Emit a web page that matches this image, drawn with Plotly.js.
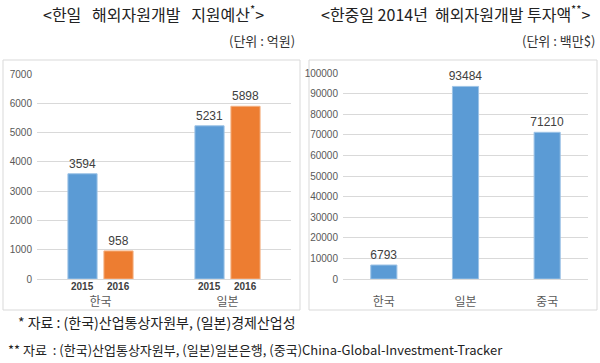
<!DOCTYPE html>
<html><head><meta charset="utf-8">
<script src="https://cdn.plot.ly/plotly-3.0.1.min.js"></script>
<style>html,body{margin:0;padding:0;background:#fff}</style>
</head><body><div id="chart" style="width:600px;height:363px"></div>
<script>
// ---- data ----
const countriesLeft = ['한국', '일본'];
const years = ['2015', '2016'];
const budget2015 = [3594, 5231];
const budget2016 = [958, 5898];
const countriesRight = ['한국', '일본', '중국'];
const invest2014 = [6793, 93484, 71210];
const leftTicks = [0, 1000, 2000, 3000, 4000, 5000, 6000, 7000];
const rightTicks = [0, 10000, 20000, 30000, 40000, 50000, 60000, 70000, 80000, 90000, 100000];

const KFONT = '"Noto Sans CJK KR", "Noto Sans", sans-serif';
const NFONT = '"Liberation Sans", Arial, sans-serif';
const BLUE = '#5B9BD5', ORANGE = '#ED7D31';
const W = 600, H = 363;
const px = v => v / W, py = v => 1 - v / H;
const NB = '\u00a0';

const traces = [
  {type:'bar', x: countriesLeft, y: budget2015, name: years[0], xaxis:'x', yaxis:'y',
   marker:{color: BLUE, line:{color:'#9dc3e6', width:1}},
   text: budget2015.map(String), textposition:'outside', cliponaxis:false, constraintext:'none',
   textfont:{family: NFONT, size: 12, color:'#404040'}, hoverinfo:'x+y'},
  {type:'bar', x: countriesLeft, y: budget2016, name: years[1], xaxis:'x', yaxis:'y',
   marker:{color: ORANGE, line:{color:'#f4b183', width:1}},
   text: budget2016.map(String), textposition:'outside', cliponaxis:false, constraintext:'none',
   textfont:{family: NFONT, size: 12, color:'#404040'}, hoverinfo:'x+y'},
  {type:'bar', x: countriesRight, y: invest2014, name:'2014', xaxis:'x2', yaxis:'y2',
   width: 0.32,
   marker:{color: BLUE, line:{color:'#9dc3e6', width:1}},
   text: invest2014.map(String), textposition:'outside', cliponaxis:false, constraintext:'none',
   textfont:{family: NFONT, size: 12, color:'#404040'}, hoverinfo:'x+y'}
];

const annotations = [
  {text:'&lt;한일' + NB+NB+NB + '해외자원개발' + NB+NB+NB + '지원예산<sup>*</sup>&gt;', xref:'paper', yref:'paper',
   x: px(153), y: py(13), xanchor:'center', yanchor:'middle', showarrow:false,
   font:{family:KFONT, size:16, color:'#222'}},
  {text:'&lt;한중일 2014년' + NB + ' 해외자원개발 투자액<sup>**</sup>&gt;', xref:'paper', yref:'paper',
   x: px(456), y: py(13), xanchor:'center', yanchor:'middle', showarrow:false,
   font:{family:KFONT, size:16, color:'#222'}},
  {text:'(단위' + NB + ':' + NB + '억원)', xref:'paper', yref:'paper', x: px(297), y: py(40),
   xanchor:'right', yanchor:'middle', showarrow:false, font:{family:KFONT, size:13, color:'#333'}},
  {text:'(단위' + NB + ':' + NB + '백만$)', xref:'paper', yref:'paper', x: px(597), y: py(40),
   xanchor:'right', yanchor:'middle', showarrow:false, font:{family:KFONT, size:13, color:'#333'}},
  {text:'*' + NB + '자료 : (한국)산업통상자원부, (일본)경제산업성', xref:'paper', yref:'paper', x: px(16), y: py(322),
   xanchor:'left', yanchor:'middle', showarrow:false, font:{family:KFONT, size:14, color:'#222'}},
  {text:'**' + NB + '자료' + NB + ' : (한국)산업통상자원부, (일본)일본은행, (중국)China-Global-Investment-Tracker', xref:'paper', yref:'paper', x: px(6), y: py(349),
   xanchor:'left', yanchor:'middle', showarrow:false, font:{family:KFONT, size:13, color:'#222'}}
];
// year labels under each left bar
countriesLeft.forEach(c => {
  years.forEach((yr, i) => {
    annotations.push({text:'<b>' + yr + '</b>', xref:'x', yref:'paper', x: c, xshift: i === 0 ? -18 : 18,
      y: py(286), yanchor:'middle', showarrow:false, font:{family:NFONT, size:10, color:'#404040'}});
  });
});

const axisY = {showgrid:true, gridcolor:'#d9d9d9', gridwidth:1, zeroline:true, zerolinecolor:'#d9d9d9',
  showline:false, ticks:'', tickfont:{family:NFONT, size:10, color:'#595959'}, fixedrange:true};
const axisX = {type:'category', showgrid:false, zeroline:false, showline:false, ticks:'',
  tickfont:{family:KFONT, size:12, color:'#595959'}, fixedrange:true};

const layout = {
  width: W, height: H, autosize:false,
  margin:{l:0, r:0, t:0, b:0, pad:0},
  paper_bgcolor:'#fff', plot_bgcolor:'rgba(0,0,0,0)',
  showlegend:false, barmode:'group', bargap:0.433, bargroupgap:0.19,
  xaxis: Object.assign({}, axisX, {domain:[px(37), px(291)], anchor:'y', ticklabelstandoff: 14}),
  yaxis: Object.assign({}, axisY, {domain:[py(279), py(74)], range:[0, 7000], tickvals: leftTicks,
    ticktext: leftTicks.map(String), anchor:'x', ticklabelstandoff: 4}),
  xaxis2: Object.assign({}, axisX, {domain:[px(343), px(588)], anchor:'y2', ticklabelstandoff: 14}),
  yaxis2: Object.assign({}, axisY, {domain:[py(279), py(73)], range:[0, 100000], tickvals: rightTicks,
    ticktext: rightTicks.map(String), anchor:'x2', ticklabelstandoff: 4}),
  annotations: annotations,
  shapes: [
    {type:'rect', xref:'paper', yref:'paper', x0: px(3), x1: px(300), y0: py(310), y1: py(60),
     line:{color:'#d9d9d9', width:1}, layer:'below'},
    {type:'rect', xref:'paper', yref:'paper', x0: px(309), x1: px(597), y0: py(310), y1: py(60),
     line:{color:'#d9d9d9', width:1}, layer:'below'}
  ],
  font:{family:KFONT}
};

Plotly.newPlot('chart', traces, layout, {displayModeBar:false, staticPlot:true});
</script></body></html>
